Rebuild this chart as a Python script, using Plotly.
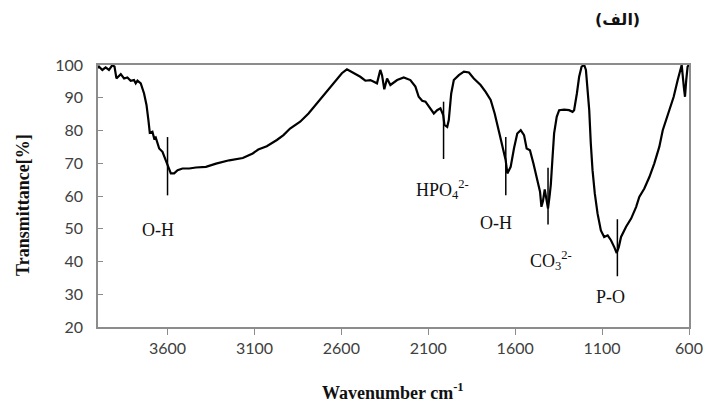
import plotly.graph_objects as go

# ---- data ----
wavenumber = [4000, 3994, 3975, 3956, 3937, 3917, 3905, 3894, 3869, 3850, 3831, 3812, 3793, 3783, 3773,
              3754, 3735, 3721, 3710, 3702, 3687, 3677, 3668, 3648, 3629, 3610, 3594, 3581, 3562, 3542,
              3514, 3475, 3437, 3379, 3321, 3245, 3167, 3110, 3078, 3029, 2971, 2933, 2895, 2837, 2789,
              2741, 2683, 2635, 2597, 2568, 2530, 2491, 2462, 2433, 2395, 2376, 2366, 2353, 2337, 2318,
              2279, 2241, 2203, 2174, 2155, 2135, 2116, 2087, 2068, 2049, 2030, 2014, 2007, 1991, 1982,
              1968, 1953, 1924, 1895, 1866, 1838, 1799, 1770, 1741, 1718, 1693, 1668, 1655, 1645, 1626,
              1607, 1588, 1568, 1549, 1534, 1515, 1495, 1476, 1457, 1449, 1440, 1430, 1420, 1411, 1402,
              1395, 1386, 1376, 1361, 1347, 1318, 1290, 1270, 1261, 1245, 1232, 1218, 1203, 1193, 1184,
              1174, 1165, 1155, 1142, 1126, 1107, 1088, 1068, 1049, 1030, 1016, 1004, 991, 962, 933,
              904, 886, 857, 828, 800, 771, 751, 732, 713, 688, 665, 650, 642, 630, 623, 616, 608, 601]
transmittance = [99.0, 99.5, 98.5, 99.3, 98.5, 100, 99.5, 95.9, 97.2, 95.9, 96.2, 95.2, 95.4, 94.4, 95.2,
                 94.4, 91.3, 87.8, 83.2, 79.3, 79.6, 77.6, 77.9, 74.5, 73.5, 71.0, 68.9, 66.9, 66.9, 67.9,
                 68.4, 68.4, 68.7, 68.9, 69.9, 70.9, 71.6, 73.0, 74.2, 75.2, 77.1, 78.6, 80.6, 82.7, 85.2,
                 88.3, 91.8, 95.2, 97.5, 98.7, 97.5, 96.4, 95.2, 95.4, 94.4, 98.5, 96.9, 92.6, 95.9, 93.9,
                 95.4, 96.2, 95.4, 93.4, 90.3, 89.1, 88.8, 86.8, 85.2, 86.2, 86.8, 84.7, 81.7, 81.1, 83.2,
                 91.3, 95.4, 96.9, 98.0, 97.7, 95.9, 93.9, 91.8, 89.3, 85.2, 79.6, 74.0, 71.0, 66.9, 68.9,
                 74.5, 79.1, 80.1, 78.6, 74.5, 74.0, 69.9, 65.3, 61.3, 56.7, 58.5, 62.0, 59.0, 56.2, 60.0,
                 63.5, 71.0, 79.1, 84.2, 86.2, 86.4, 86.2, 85.7, 86.2, 91.3, 96.4, 99.5, 100, 98.5, 93.4,
                 86.2, 76.1, 67.9, 60.8, 54.6, 49.5, 47.5, 48.0, 46.5, 44.4, 42.6, 44.4, 47.5, 50.6, 53.1,
                 56.7, 59.7, 62.3, 65.8, 69.9, 75.0, 80.1, 83.2, 86.2, 90.3, 95.4, 99.0, 100, 93.4, 90.3,
                 95.4, 99.5, 100]

x_ticks = [3600, 3100, 2600, 2100, 1600, 1100, 600]
y_ticks = [20, 30, 40, 50, 60, 70, 80, 90, 100]

band_names = ["O-H", "HPO<sub>4</sub><sup>2-</sup>", "O-H", "CO<sub>3</sub><sup>2-</sup>", "P-O"]
band_pos = [3600, 2012, 1654, 1411, 1012]
band_line_low = [60.2, 71.3, 60.2, 51.3, 35.5]
band_line_high = [78.0, 88.8, 78.0, 68.6, 52.9]
label_x = [3656, 2017, 1710, 1395, 1049]
label_y = [49.5, 62.0, 51.8, 40.3, 29.1]

title_text = "(الف)"
x_title = "Wavenumber cm<sup>-1</sup>"
y_title = "Transmittance[%]"

# ---- layout geometry (pixels) ----
W, H = 705, 404
ML, MR, MT, MB = 98, 16, 65, 77
PW, PH = W - ML - MR, H - MT - MB


def px_to_paper(px, py):
    return (px - ML) / PW, (H - MB - py) / PH


fig = go.Figure()
fig.add_trace(go.Scatter(x=wavenumber, y=transmittance, mode="lines",
                         line=dict(color="black", width=2.2), showlegend=False,
                         hoverinfo="skip"))

shapes = []
for bx, lo, hi in zip(band_pos, band_line_low, band_line_high):
    shapes.append(dict(type="line", xref="x", yref="y", x0=bx, x1=bx, y0=lo, y1=hi,
                       line=dict(color="black", width=1.5)))

annotations = []
for name, lx, ly in zip(band_names, label_x, label_y):
    annotations.append(dict(x=lx, y=ly, xref="x", yref="y", text=name, showarrow=False,
                            font=dict(family="Liberation Serif", size=18, color="#111")))

tx, ty = px_to_paper(617, 19)
annotations.append(dict(x=tx, y=ty, xref="paper", yref="paper", text="<b>" + title_text + "</b>",
                        showarrow=False, xanchor="center", yanchor="middle",
                        font=dict(family="DejaVu Sans", size=16, color="#111")))
xx, xy = px_to_paper(393, 391)
annotations.append(dict(x=xx, y=xy, xref="paper", yref="paper", text="<b>" + x_title + "</b>",
                        showarrow=False, xanchor="center", yanchor="middle",
                        font=dict(family="Liberation Serif", size=18, color="#111")))
yx, yy = px_to_paper(23, 205)
annotations.append(dict(x=yx, y=yy, xref="paper", yref="paper", text="<b>" + y_title + "</b>",
                        showarrow=False, xanchor="center", yanchor="middle", textangle=-90,
                        font=dict(family="Liberation Serif", size=18, color="#111")))

axis_col = "#8c8c8c"
fig.update_layout(
    width=W, height=H,
    margin=dict(l=ML, r=MR, t=MT, b=MB, autoexpand=False),
    paper_bgcolor="white", plot_bgcolor="white",
    shapes=shapes, annotations=annotations,
    xaxis=dict(range=[4000, 600], tickvals=x_ticks, ticktext=[str(v) for v in x_ticks],
               automargin=False,
               showgrid=False, zeroline=False, showline=True, linecolor=axis_col, linewidth=1.5,
               mirror=True, ticks="outside", ticklen=6, tickcolor=axis_col, tickwidth=1.2,
               tickfont=dict(family="Lato", size=16, color="#404040")),
    yaxis=dict(range=[20, 100], tickvals=y_ticks, showgrid=False, zeroline=False,
               automargin=False,
               showline=True, linecolor=axis_col, linewidth=1.5, mirror=True,
               ticks="inside", ticklen=5, tickcolor=axis_col, tickwidth=1.2,
               ticklabelstandoff=10,
               tickfont=dict(family="Lato", size=16, color="#404040")),
)

fig.write_html("out.html")
